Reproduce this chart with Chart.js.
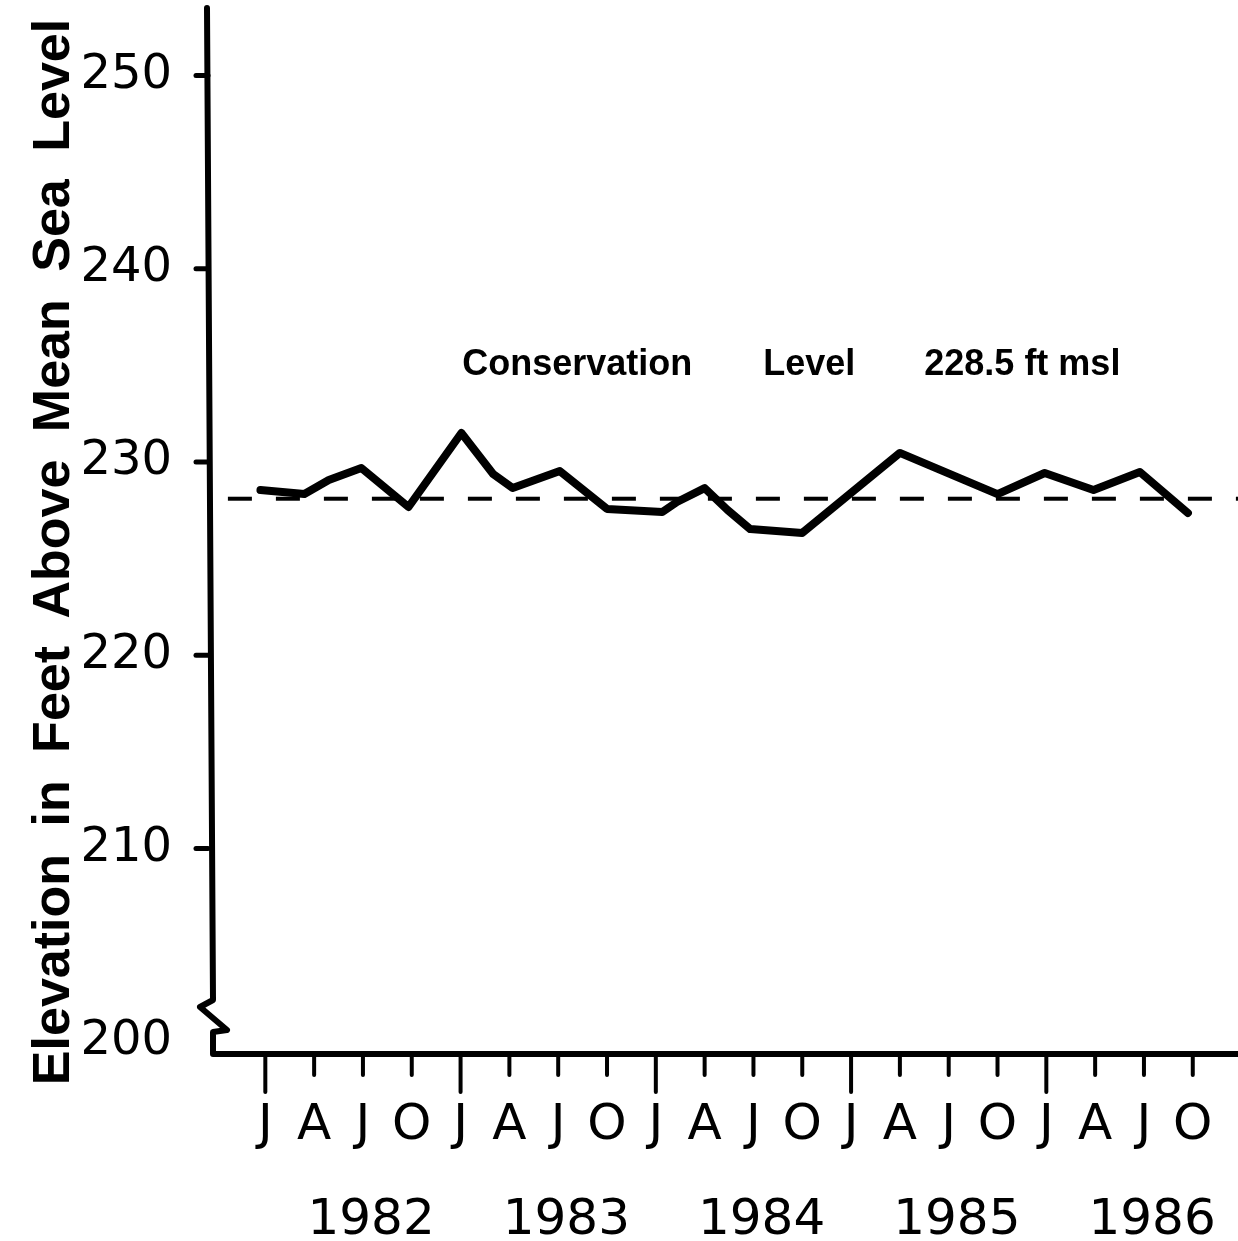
<!DOCTYPE html>
<html>
<head>
<meta charset="utf-8">
<script src="https://cdn.jsdelivr.net/npm/chart.js@4/dist/chart.umd.min.js"></script>
<style>
  body { margin: 0; background: #fff; }
  canvas { display: block; }
</style>
</head>
<body>
<canvas id="elevation-chart" width="1238" height="1241"></canvas>
<script>
// reservoir elevation (x = months since Jan 1982)
const month_Index = [-0.3, 2.4, 3.9, 5.9, 8.8, 12.05, 14.0, 15.2, 18.1, 21.0, 24.4, 25.3, 27.0, 28.4, 29.8, 33.0, 39.0, 45.0, 47.9, 50.9, 53.75, 56.7];
const elevation_Ft = [228.55, 228.34, 229.07, 229.69, 227.67, 231.5, 229.38, 228.65, 229.53, 227.57, 227.41, 227.93, 228.65, 227.52, 226.53, 226.33, 230.47, 228.34, 229.43, 228.55, 229.48, 227.36];

// conservation level as drawn (dashed)
const conservation_Months = [-2.3, 60];
const conservation_Ft = [228.1, 228.1];

// axis ticks
const tick_Months = [0, 3, 6, 9, 12, 15, 18, 21, 24, 27, 30, 33, 36, 39, 42, 45, 48, 51, 54, 57];
const tick_Letters = ["J", "A", "J", "O", "J", "A", "J", "O", "J", "A", "J", "O", "J", "A", "J", "O", "J", "A", "J", "O"];
const year_Months = [6.5, 18.5, 30.5, 42.5, 54.5];
const year_Labels = ["1982", "1983", "1984", "1985", "1986"];
const elevation_Ticks = [200, 210, 220, 230, 240, 250];

// note text above the line
const note_Parts = ["Conservation", "Level", "228.5 ft msl"];
const note_Months = [12.1, 30.6, 40.5];
const note_Ft = 235.0;

const y_Title = "Elevation in Feet Above Mean Sea Level";

// no extra room for labels at the scale ends
const no_Pad = (s) => {
	s.paddingTop = 0;
	s.paddingBottom = 0;
	s.paddingLeft = 0;
	s.paddingRight = 0;
};

// axes, tick marks, axis break, title and note
const axis_Decor = {
	id: "axisDecor",
	afterDraw(chart) {
		const { ctx, chartArea: a, scales } = chart;
		const x = scales.x, y = scales.y;
		ctx.save();
		ctx.strokeStyle = "#000";
		ctx.fillStyle = "#000";
		ctx.lineCap = "round";
		ctx.lineJoin = "round";

		// y axis with the break near the bottom, then x axis
		ctx.lineWidth = 6;
		ctx.beginPath();
		ctx.moveTo(a.left - 3, a.top);
		ctx.lineTo(a.left + 3, a.bottom - 54);
		ctx.lineTo(a.left - 10, a.bottom - 47);
		ctx.lineTo(a.left + 17, a.bottom - 24);
		ctx.lineTo(a.left + 3, a.bottom - 22);
		ctx.lineTo(a.left + 3, a.bottom);
		ctx.lineTo(a.right, a.bottom);
		ctx.stroke();

		// y ticks
		ctx.lineWidth = 5;
		elevation_Ticks.forEach((v) => {
			if (v === 200) return;
			const py = y.getPixelForValue(v);
			ctx.beginPath();
			ctx.moveTo(a.left - 14, py);
			ctx.lineTo(a.left - 2, py);
			ctx.stroke();
		});

		// x ticks, longer at January
		ctx.lineWidth = 4;
		tick_Months.forEach((m) => {
			const px = x.getPixelForValue(m);
			const len = m % 12 === 0 ? 38 : 21;
			ctx.beginPath();
			ctx.moveTo(px, a.bottom);
			ctx.lineTo(px, a.bottom + len);
			ctx.stroke();
		});

		// note
		ctx.font = "bold 36px 'Liberation Sans'";
		ctx.textBaseline = "middle";
		ctx.textAlign = "left";
		note_Parts.forEach((t, i) => {
			ctx.fillText(t, x.getPixelForValue(note_Months[i]), y.getPixelForValue(note_Ft));
		});

		// y title
		ctx.translate(55, 552);
		ctx.rotate(-Math.PI / 2);
		ctx.font = "bold 52px 'Liberation Sans'";
		ctx.wordSpacing = "13px";
		ctx.textAlign = "center";
		ctx.fillText(y_Title, 0, 0);
		ctx.restore();
	},
};

const elevation_Chart = document.getElementById("elevation-chart").getContext("2d");

new Chart(elevation_Chart, {
	type: "line",
	data: {
		datasets: [
			{
				data: month_Index.map((m, i) => ({ x: m, y: elevation_Ft[i] })),
				borderColor: "#000",
				borderWidth: 8,
				pointRadius: 0,
				tension: 0,
				borderJoinStyle: "round",
				borderCapStyle: "round",
			},
			{
				data: conservation_Months.map((m, i) => ({ x: m, y: conservation_Ft[i] })),
				borderColor: "#000",
				borderWidth: 4,
				borderDash: [24, 24],
				pointRadius: 0,
			},
		],
	},
	options: {
		responsive: false,
		animation: false,
		devicePixelRatio: 1,
		clip: false,
		layout: { padding: { top: 8, right: 0, left: 0, bottom: 0 } },
		plugins: { legend: { display: false }, tooltip: { enabled: false } },
		scales: {
			x: {
				type: "linear",
				position: "bottom",
				weight: 0,
				min: -3.4,
				max: 59.78,
				grid: { display: false, drawTicks: false },
				border: { display: false },
				afterBuildTicks: (s) => { s.ticks = tick_Months.map((v) => ({ value: v })); },
				afterFit: (s) => { s.height = 95; no_Pad(s); },
				ticks: {
					autoSkip: false,
					maxRotation: 0,
					padding: 42,
					color: "#000",
					font: { family: "'DejaVu Sans'", size: 50 },
					callback: (v, i) => tick_Letters[i],
				},
			},
			x2: {
				type: "linear",
				position: "bottom",
				weight: 1,
				min: -3.4,
				max: 59.78,
				grid: { display: false, drawTicks: false },
				border: { display: false },
				afterBuildTicks: (s) => { s.ticks = year_Months.map((v) => ({ value: v })); },
				afterFit: (s) => { s.height = 92; no_Pad(s); },
				ticks: {
					autoSkip: false,
					maxRotation: 0,
					padding: 42,
					color: "#000",
					font: { family: "'DejaVu Sans'", size: 50 },
					callback: (v, i) => year_Labels[i],
				},
			},
			y: {
				type: "linear",
				min: 199.37,
				max: 253.49,
				grid: { display: false, drawTicks: false },
				border: { display: false },
				afterBuildTicks: (s) => { s.ticks = elevation_Ticks.map((v) => ({ value: v })); },
				afterFit: (s) => { s.width = 210; no_Pad(s); },
				ticks: {
					padding: 38,
					color: "#000",
					font: { family: "'DejaVu Sans'", size: 48 },
				},
			},
		},
	},
	plugins: [axis_Decor],
});
</script>
</body>
</html>
